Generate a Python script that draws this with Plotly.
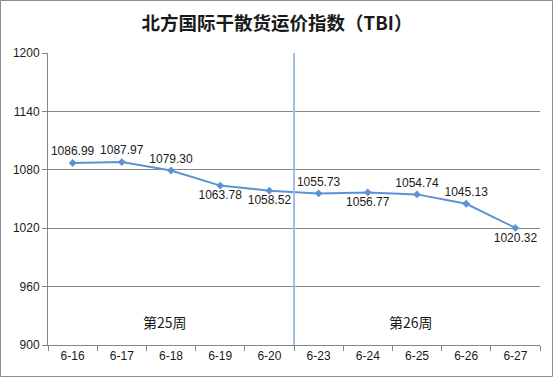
import plotly.graph_objects as go

dates = ["6-16", "6-17", "6-18", "6-19", "6-20", "6-23", "6-24", "6-25", "6-26", "6-27"]
tbi = [1086.99, 1087.97, 1079.30, 1063.78, 1058.52, 1055.73, 1056.77, 1054.74, 1045.13, 1020.32]
label_pos = ["top center", "top center", "top center", "bottom center", "bottom center",
             "top center", "bottom center", "top center", "top center", "bottom center"]
y_ticks = [900, 960, 1020, 1080, 1140, 1200]
week_labels = ["第25周", "第26周"]
week_x = [1.87, 6.87]
week_y = [923.5, 923.5]

W, H = 554, 378
L, R, T, B = 48, 14, 53, 33
pw, ph = W - L - R, H - T - B

font_stack = "Liberation Sans, Noto Sans CJK SC, sans-serif"

fig = go.Figure()
fig.add_trace(go.Scatter(
    x=dates, y=tbi, mode="lines+markers+text",
    line=dict(color="#5B93D1", width=2),
    marker=dict(symbol="diamond", size=6, color="#5B93D1"),
    text=[f"{v:.2f}" for v in tbi], textposition=label_pos,
    textfont=dict(size=12, color="#1a1a1a", family=font_stack),
    cliponaxis=False, showlegend=False,
))

fig.add_shape(type="line", xref="x", yref="paper", x0=4.5, x1=4.5, y0=0, y1=1,
              line=dict(color="#9DC0E4", width=2))
# outer border
fig.add_shape(type="rect", xref="paper", yref="paper",
              x0=(0.5 - L) / pw, x1=(W - 1.5 - L) / pw,
              y0=-(B - 1.5) / ph, y1=1 + (T - 0.5) / ph,
              line=dict(color="#8c8c8c", width=1))

for t, x, y in zip(week_labels, week_x, week_y):
    fig.add_annotation(x=x, y=y, xref="x", yref="y", text=t, showarrow=False,
                       font=dict(size=14, color="#1a1a1a", family="Noto Sans CJK SC"))

fig.update_layout(
    width=W, height=H,
    margin=dict(l=L, r=R, t=T, b=B),
    paper_bgcolor="white", plot_bgcolor="white",
    title=dict(text="<b>北方国际干散货运价指数（TBI）</b>", x=0.5, xanchor="center",
               y=1 - 23.5 / H, yanchor="middle",
               font=dict(size=18.5, color="#1a1a1a", family="Noto Sans CJK SC")),
    xaxis=dict(type="category", tickson="boundaries", ticks="outside", ticklen=5,
               tickcolor="#868686", showline=True, linecolor="#868686", linewidth=1,
               showgrid=False, tickfont=dict(size=12, color="#1a1a1a", family=font_stack),
               range=[-0.5, 9.5]),
    yaxis=dict(range=[900, 1200], tickvals=y_ticks, ticks="outside", ticklen=5,
               tickcolor="#868686", showline=True, linecolor="#868686", linewidth=1,
               showgrid=True, gridcolor="#868686", gridwidth=1, zeroline=False,
               tickfont=dict(size=12, color="#1a1a1a", family=font_stack)),
)

fig.write_html("out.html", config={"displayModeBar": False},
               post_script="document.body.style.margin='0';")
